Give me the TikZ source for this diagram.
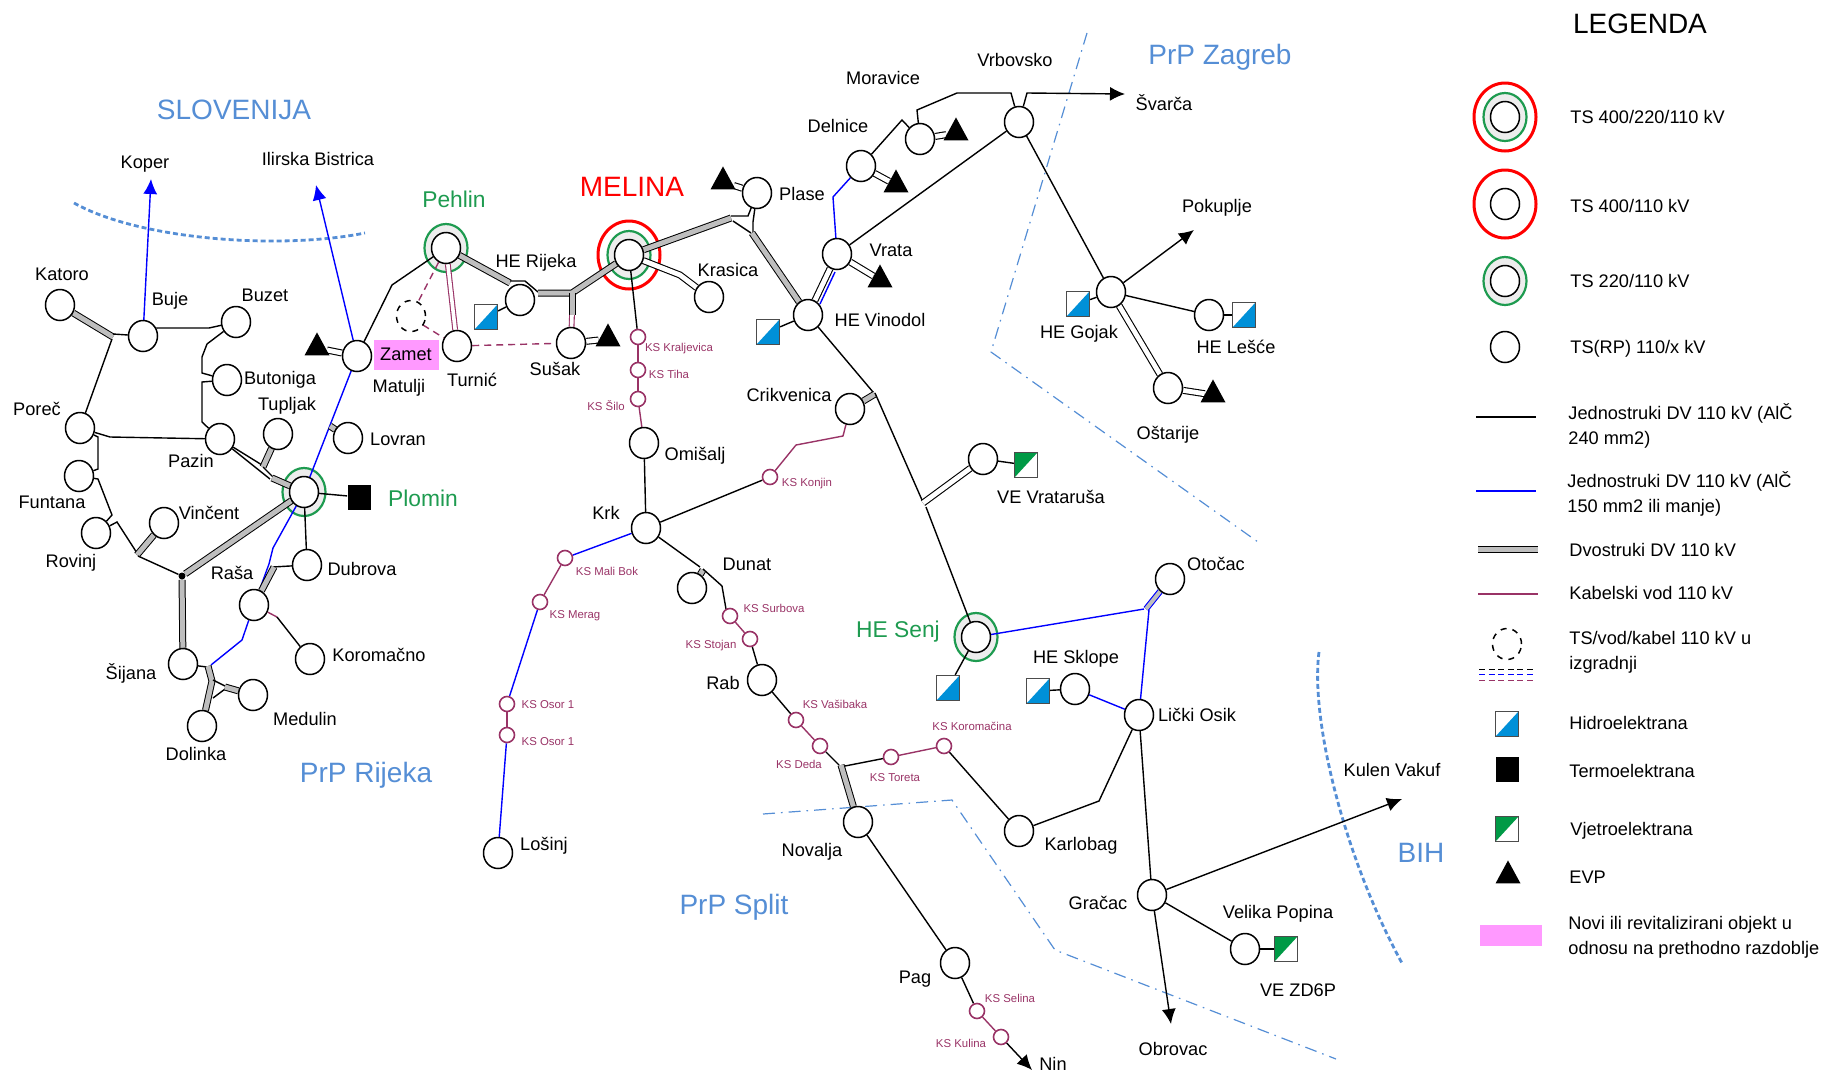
\documentclass[tikz,border=0pt]{standalone}
\usepackage{fontspec}
\setmainfont{Liberation Sans}
\usetikzlibrary{arrows.meta,backgrounds,shapes.geometric}
\definecolor{hopsBlue}{RGB}{85,142,213}
\definecolor{hopsGreen}{RGB}{30,155,80}
\definecolor{hopsCable}{RGB}{153,51,102}
\definecolor{hopsPink}{RGB}{255,153,255}
\definecolor{hopsHydro}{RGB}{0,144,216}
\definecolor{hopsWind}{RGB}{0,154,70}
\definecolor{hopsDouble}{RGB}{190,190,190}
\tikzset{
    tsnode/.style={ellipse, draw=black, line width=0.75pt, fill=white, inner sep=0pt,
                   minimum width=14.5pt, minimum height=15.5pt},
    ksnode/.style={circle, draw=hopsCable, line width=0.8pt, fill=white, inner sep=0pt, minimum size=7.5pt},
    futurenode/.style={tsnode, fill=none, dashed},
    ringgreen/.style={ellipse, draw=hopsGreen, line width=1.1pt, fill=black!7, inner sep=0pt,
                      minimum width=21.5pt, minimum height=24pt},
    ringred/.style={ellipse, draw=red, line width=1.5pt, fill=white, inner sep=0pt,
                    minimum width=31pt, minimum height=34pt},
    hydroplant/.style={rectangle, draw=black!70, line width=0.6pt, fill=white, inner sep=0pt,
                       minimum width=11.5pt, minimum height=12.5pt,
                       path picture={\fill[hopsHydro] (path picture bounding box.south west)
                       -- (path picture bounding box.north east)
                       -- (path picture bounding box.south east) -- cycle;}},
    windplant/.style={hydroplant, path picture={\fill[hopsWind] (path picture bounding box.south west)
                       -- (path picture bounding box.north east)
                       -- (path picture bounding box.north west) -- cycle;}},
    thermoplant/.style={rectangle, fill=black, inner sep=0pt, minimum width=11.5pt, minimum height=12.5pt},
    evpmark/.style={isosceles triangle, isosceles triangle stretches, shape border rotate=90,
                    fill=black, inner sep=0pt, minimum width=12.5pt, minimum height=11.5pt},
    txt/.style={font=\fontsize{9.1}{12.5}\selectfont, inner sep=0pt, align=left},
    kstxt/.style={font=\fontsize{5.7}{7}\selectfont, text=hopsCable, inner sep=0pt},
    greentxt/.style={font=\fontsize{11.4}{13}\selectfont, text=hopsGreen, inner sep=0pt},
    regiontxt/.style={font=\fontsize{14}{16}\selectfont, text=hopsBlue, inner sep=0pt},
    legendtxt/.style={txt, anchor=west},
    dvsingle/.style={draw=black, line width=0.7pt},
    dvblue/.style={draw=blue, line width=0.7pt},
    dvcable/.style={draw=hopsCable, line width=0.7pt},
    dvfuture/.style={draw=hopsCable, line width=0.7pt, dash pattern=on 3.5pt off 2.5pt},
    dvgray/.style={draw=black, line width=0.5pt, double=hopsDouble, double distance=2.5pt},
    dvwhite/.style={draw=black, line width=0.55pt, double=white, double distance=2.4pt},
    dvcablepair/.style={draw=hopsCable, line width=0.55pt, double=white, double distance=1.8pt},
    dvbluepair/.style={draw=blue, line width=0.55pt, double=hopsDouble, double distance=2pt},
    flowblack/.style={dvsingle, -{Latex[length=7.5pt,width=7pt]}},
    flowblue/.style={dvblue, -{Latex[length=7.5pt,width=7pt]}},
    borderdot/.style={draw=hopsBlue, line width=1.4pt, dash pattern=on 2.5pt off 1.5pt},
    borderdash/.style={draw=hopsBlue, line width=0.6pt, dash pattern=on 6pt off 3pt on 0.8pt off 3pt}
}

\begin{document}
\begin{tikzpicture}[x=0.5pt,y=-0.5pt]
  \useasboundingbox (0,0) rectangle (1827,1071);

  % Istra
  \node[tsnode] (katoro) at (60,305) {};
  \node[tsnode] (buje) at (143,336) {};
  \node[tsnode] (buzet) at (236,322) {};
  \node[tsnode] (butoniga) at (227,380) {};
  \node[tsnode] (porec) at (80,428) {};
  \node[tsnode] (funtana) at (79,476) {};
  \node[tsnode] (rovinj) at (96,533) {};
  \node[tsnode] (vincent) at (164,523) {};
  \node[tsnode] (pazin) at (220,439) {};
  \node[tsnode] (tupljak) at (278,434) {};
  \node[tsnode] (matulji) at (357,356) {};
  \node[tsnode] (lovran) at (348,438) {};
  \node[tsnode] (plomin) at (304,492) {};
  \node[tsnode] (dubrova) at (307,565) {};
  \node[tsnode] (rasa) at (254,605) {};
  \node[tsnode] (koromacno) at (310,659) {};
  \node[tsnode] (sijana) at (183,664) {};
  \node[tsnode] (medulin) at (253,695) {};
  \node[tsnode] (dolinka) at (202,726) {};
  \node[thermoplant] (plominTE) at (359,497) {};
  \node[evpmark] (matuljiEVP) at (317,348) {};
  \node[circle, fill=black, inner sep=0pt, minimum size=3.5pt] (sijanaJoint) at (182,576) {};

  % Rijeka i otoci
  \node[tsnode] (pehlin) at (446,248) {};
  \node[tsnode] (turnic) at (457,346) {};
  \node[futurenode] (zamet) at (411,316) {};
  \node[tsnode] (heRijeka) at (520,300) {};
  \node[tsnode] (melina) at (629,255) {};
  \node[tsnode] (krasica) at (709,297) {};
  \node[tsnode] (susak) at (571,343) {};
  \node[tsnode] (omisalj) at (644,443) {};
  \node[tsnode] (krk) at (646,528) {};
  \node[tsnode] (losinj) at (498,853) {};
  \node[tsnode] (dunat) at (692,588) {};
  \node[tsnode] (rab) at (762,680) {};
  \node[tsnode] (novalja) at (858,822) {};
  \node[tsnode] (pag) at (955,963) {};
  \node[hydroplant] (heRijekaHE) at (486,317) {};
  \node[evpmark] (susakEVP) at (608,339) {};
  \node[ksnode] (ksKraljevica) at (638,337) {};
  \node[ksnode] (ksTiha) at (638,370) {};
  \node[ksnode] (ksSilo) at (638,399) {};
  \node[ksnode] (ksKonjin) at (770,477) {};
  \node[ksnode] (ksMaliBok) at (565,558) {};
  \node[ksnode] (ksMerag) at (540,602) {};
  \node[ksnode] (ksOsorA) at (507,704) {};
  \node[ksnode] (ksOsorB) at (507,735) {};
  \node[ksnode] (ksSurbova) at (730,616) {};
  \node[ksnode] (ksStojan) at (750,639) {};
  \node[ksnode] (ksVasibaka) at (796,720) {};
  \node[ksnode] (ksDeda) at (820,746) {};
  \node[ksnode] (ksToreta) at (891,757) {};
  \node[ksnode] (ksKoromacina) at (944,746) {};
  \node[ksnode] (ksSelina) at (977,1011) {};
  \node[ksnode] (ksKulina) at (1001,1037) {};

  % Gorski kotar i Lika
  \node[tsnode] (plase) at (757,193) {};
  \node[tsnode] (vrata) at (837,254) {};
  \node[tsnode] (vinodol) at (808,315) {};
  \node[tsnode] (crikvenica) at (850,409) {};
  \node[tsnode] (delnice) at (861,166) {};
  \node[tsnode] (moravice) at (920,139) {};
  \node[tsnode] (vrbovsko) at (1019,122) {};
  \node[tsnode] (gojak) at (1111,292) {};
  \node[tsnode] (lesce) at (1209,315) {};
  \node[tsnode] (ostarije) at (1168,388) {};
  \node[tsnode] (vratarusa) at (983,459) {};
  \node[tsnode] (senj) at (976,637) {};
  \node[tsnode] (sklope) at (1075,689) {};
  \node[tsnode] (osik) at (1139,715) {};
  \node[tsnode] (otocac) at (1170,579) {};
  \node[tsnode] (karlobag) at (1019,831) {};
  \node[tsnode] (gracac) at (1152,895) {};
  \node[tsnode] (popina) at (1245,949) {};
  \node[evpmark] (plaseEVP) at (723,182) {};
  \node[evpmark] (vrataEVP) at (880,280) {};
  \node[evpmark] (delniceEVP) at (896,185) {};
  \node[evpmark] (moraviceEVP) at (956,133) {};
  \node[evpmark] (ostarijeEVP) at (1213,395) {};
  \node[hydroplant] (vinodolHE) at (768,332) {};
  \node[hydroplant] (gojakHE) at (1078,304) {};
  \node[hydroplant] (lesceHE) at (1244,315) {};
  \node[hydroplant] (senjHE) at (948,688) {};
  \node[hydroplant] (sklopeHE) at (1038,691) {};
  \node[windplant] (vratarusaVE) at (1026,465) {};
  \node[windplant] (popinaVE) at (1286,949) {};

  % Slobodni krajevi vodova
  \coordinate (koper) at (151,179);
  \coordinate (bistrica) at (316,185);
  \coordinate (svarca) at (1125,94);
  \coordinate (pokuplje) at (1194,230);
  \coordinate (kulen) at (1402,799);
  \coordinate (obrovac) at (1171,1024);
  \coordinate (nin) at (1032,1070);

  \begin{scope}[on background layer]
    % Granice
    \draw[borderdot] (74,203) .. controls (140,240) and (280,250) .. (365,233);
    \draw[borderdot] (1319,652) .. controls (1310,720) and (1345,860) .. (1403,965);
    \draw[borderdash] (1087,33) -- (991,352) -- (1258,542);
    \draw[borderdash] (763,814) -- (952,800) -- (1055,950) -- (1336,1059);

    % Prstenovi
    \node[ringred] (melinaRed) at (melina) {};
    \node[ringgreen] (melinaGreen) at (melina) {};
    \node[ringgreen] (pehlinGreen) at (pehlin) {};
    \node[ringgreen] (plominGreen) at (plomin) {};
    \node[ringgreen] (senjGreen) at (senj) {};
    \node[fill=hopsPink, minimum width=32.5pt, minimum height=15pt, inner sep=0pt] (zametBox) at (406.5,355) {};

    % Vodovi Istra
    \draw[dvgray] (katoro) -- (113,337);
    \draw[dvsingle] (113,334) -- (buje);
    \draw[dvsingle] (112,339) -- (porec);
    \draw[flowblue] (buje) -- (koper);
    \draw[dvsingle] (buje) -- (157,328) -- (209,328) -- (buzet);
    \draw[dvsingle] (buzet) -- (207,344) -- (202,357) -- (202,373) -- (butoniga);
    \draw[dvsingle] (butoniga) -- (202,382) -- (202,422) -- (pazin);
    \draw[dvsingle] (porec) -- (110,437) -- (pazin);
    \draw[dvsingle] (porec) -- (98,437) -- (98,469) -- (funtana);
    \draw[dvsingle] (funtana) -- (98,479) -- (112,515) -- (rovinj);
    \draw[dvsingle] (rovinj) -- (117,522) -- (137,553);
    \draw[dvgray] (vincent) -- (137,555);
    \draw[dvsingle] (138,556) -- (sijanaJoint);
    \draw[dvgray] (sijanaJoint) -- (plomin);
    \draw[dvgray] (sijanaJoint) -- (sijana);
    \draw[dvsingle] (pazin) -- (262,465);
    \draw[dvsingle] (pazin) -- (270,479);
    \draw[dvgray] (tupljak) -- (263,467);
    \draw[dvsingle] (263,467) -- (273,477);
    \draw[dvgray] (272,478) -- (plomin);
    \draw[dvsingle] (plomin) -- (plominTE);
    \draw[dvsingle] (plomin) -- (dubrova);
    \draw[dvblue] (plomin) -- (273,548) -- (269,564) -- (rasa);
    \draw[dvsingle] (dubrova) -- (273,567);
    \draw[dvgray] (274,567) -- (rasa);
    \draw[dvblue] (matulji) -- (plomin);
    \draw[flowblue] (matulji) -- (bistrica);
    \draw[dvwhite] (matulji) -- (matuljiEVP);
    \draw[dvgray] (330,426) -- (lovran);
    \draw[dvsingle] (matulji) -- (392,285) -- (pehlin);
    \draw[dvcable] (rasa) -- (277,617);
    \draw[dvsingle] (277,617) -- (koromacno);
    \draw[dvblue] (rasa) -- (242,640) -- (211,665);
    \draw[dvsingle] (sijana) -- (207,667);
    \draw[dvgray] (208,666) -- (212,681) -- (dolinka);
    \draw[dvsingle] (213,680) -- (225,686);
    \draw[dvsingle] (213,698) -- (225,689);
    \draw[dvgray] (225,687) -- (medulin);

    % Vodovi Rijeka
    \draw[dvgray] (pehlin) -- (510,283);
    \draw[dvsingle] (510,281) -- (525,281) -- (538,292);
    \draw[dvgray] (538,293) -- (572,293) -- (melina);
    \draw[dvgray] (572,293) -- (572,315);
    \draw[dvcablepair] (572,315) -- (susak);
    \draw[dvsingle] (heRijekaHE) -- (heRijeka);
    \draw[dvcablepair] (pehlin) -- (turnic);
    \draw[dvfuture] (pehlin) -- (418,302);
    \draw[dvfuture] (423,325) -- (turnic);
    \draw[dvfuture] (turnic) -- (susak);
    \draw[dvwhite] (susak) -- (susakEVP);
    \draw[dvwhite] (melina) -- (680,275) -- (krasica);
    \draw[dvsingle] (melina) -- (ksKraljevica);
    \draw[dvcable] (ksKraljevica) -- (ksTiha);
    \draw[dvcable] (ksTiha) -- (ksSilo);
    \draw[dvcable] (ksSilo) -- (omisalj);
    \draw[dvsingle] (omisalj) -- (krk);
    \draw[dvsingle] (krk) -- (ksKonjin);
    \draw[dvcable] (ksKonjin) -- (796,445) -- (843,436) -- (crikvenica);
    \draw[dvblue] (krk) -- (ksMaliBok);
    \draw[dvcable] (ksMaliBok) -- (ksMerag);
    \draw[dvblue] (ksMerag) -- (ksOsorA);
    \draw[dvcable] (ksOsorA) -- (ksOsorB);
    \draw[dvblue] (ksOsorB) -- (losinj);
    \draw[dvsingle] (krk) -- (700,567);
    \draw[dvgray] (703,570) -- (dunat);
    \draw[dvsingle] (703,569) -- (722,586) -- (726,609) -- (ksSurbova);
    \draw[dvcable] (ksSurbova) -- (ksStojan);
    \draw[dvsingle] (ksStojan) -- (rab);
    \draw[dvsingle] (rab) -- (ksVasibaka);
    \draw[dvcable] (ksVasibaka) -- (ksDeda);
    \draw[dvsingle] (ksDeda) -- (839,765);
    \draw[dvgray] (841,765) -- (novalja);
    \draw[dvsingle] (845,766) -- (ksToreta);
    \draw[dvcable] (ksToreta) -- (ksKoromacina);
    \draw[dvsingle] (ksKoromacina) -- (karlobag);
    \draw[dvsingle] (karlobag) -- (1099,801) -- (osik);
    \draw[dvsingle] (novalja) -- (pag);
    \draw[dvsingle] (pag) -- (ksSelina);
    \draw[dvcable] (ksSelina) -- (ksKulina);
    \draw[flowblack] (ksKulina) -- (nin);

    % Vodovi Gorski kotar
    \draw[dvgray] (melina) -- (731,218);
    \draw[dvsingle] (731,216) -- (748,216) -- (plase);
    \draw[dvsingle] (plase) -- (753,222) -- (753,233);
    \draw[dvsingle] (733,221) -- (751,233);
    \draw[dvgray] (752,233) -- (vinodol);
    \draw[dvwhite] (plase) -- (plaseEVP);
    \draw[dvwhite] (vrata) -- (vinodol);
    \draw[dvblue] (835,272) -- (820,304);
    \draw[dvblue] (vrata) -- (833,197) -- (delnice);
    \draw[dvwhite] (vrata) -- (vrataEVP);
    \draw[dvwhite] (delnice) -- (delniceEVP);
    \draw[dvwhite] (moravice) -- (moraviceEVP);
    \draw[dvsingle] (delnice) -- (902,120) -- (moravice);
    \draw[dvsingle] (moravice) -- (917,110) -- (957,93) -- (1011,93) -- (vrbovsko);
    \draw[flowblack] (vrbovsko) -- (1027,93) -- (svarca);
    \draw[dvsingle] (vrbovsko) -- (vrata);
    \draw[dvsingle] (vrbovsko) -- (gojak);
    \draw[dvsingle] (gojakHE) -- (gojak);
    \draw[flowblack] (gojak) -- (pokuplje);
    \draw[dvsingle] (gojak) -- (lesce);
    \draw[dvsingle] (lesce) -- (lesceHE);
    \draw[dvwhite] (gojak) -- (ostarije);
    \draw[dvwhite] (ostarije) -- (ostarijeEVP);
    \draw[dvsingle] (vinodolHE) -- (vinodol);
    \draw[dvsingle] (vinodol) -- (873,392);
    \draw[dvgray] (875,394) -- (crikvenica);
    \draw[dvsingle] (875,393) -- (922,500);
    \draw[dvwhite] (923,503) -- (vratarusa);
    \draw[dvsingle] (vratarusa) -- (vratarusaVE);
    \draw[dvsingle] (926,507) -- (senj);
    \draw[dvsingle] (senj) -- (senjHE);
    \draw[dvblue] (senj) -- (1144,609);
    \draw[dvbluepair] (1146,609) -- (otocac);
    \draw[dvblue] (1149,610) -- (osik);
    \draw[dvsingle] (sklopeHE) -- (sklope);
    \draw[dvblue] (sklope) -- (osik);
    \draw[dvsingle] (osik) -- (gracac);
    \draw[flowblack] (gracac) -- (kulen);
    \draw[flowblack] (gracac) -- (obrovac);
    \draw[dvsingle] (gracac) -- (popina);
    \draw[line width=1.2pt] (popina) -- (popinaVE);
  \end{scope}

  % Natpisi stanica
  \node[txt] (tKoper) at (145,164) {Koper};
  \node[txt] (tBistrica) at (318,159) {Ilirska Bistrica};
  \node[txt] (tKatoro) at (62,274) {Katoro};
  \node[txt] (tBuje) at (170,301) {Buje};
  \node[txt] (tBuzet) at (265,295) {Buzet};
  \node[txt] (tButoniga) at (280,380) {Butoniga};
  \node[txt] (tTupljak) at (287,406) {Tupljak};
  \node[txt] (tMatulji) at (399,388) {Matulji};
  \node[txt] (tTurnic) at (472,380) {Turnić};
  \node[txt] (tLovran) at (398,439) {Lovran};
  \node[txt] (tPorec) at (37,409) {Poreč};
  \node[txt] (tPazin) at (191,461) {Pazin};
  \node[txt] (tZamet) at (406,354) {Zamet};
  \node[txt] (tFuntana) at (52,502) {Funtana};
  \node[txt] (tVincent) at (209,513) {Vinčent};
  \node[txt] (tRovinj) at (71,563) {Rovinj};
  \node[txt] (tRasa) at (232,573) {Raša};
  \node[txt] (tDubrova) at (362,569) {Dubrova};
  \node[txt] (tKoromacno) at (379,655) {Koromačno};
  \node[txt] (tSijana) at (131,673) {Šijana};
  \node[txt] (tMedulin) at (305,719) {Medulin};
  \node[txt] (tDolinka) at (196,754) {Dolinka};
  \node[txt] (tRijeka) at (536,263) {HE Rijeka};
  \node[txt] (tPlase) at (802,194) {Plase};
  \node[txt] (tKrasica) at (728,270) {Krasica};
  \node[txt] (tSusak) at (555,369) {Sušak};
  \node[txt] (tOmisalj) at (695,456) {Omišalj};
  \node[txt] (tKrk) at (606,513) {Krk};
  \node[txt] (tCrikvenica) at (789,395) {Crikvenica};
  \node[txt] (tVinodol) at (880,320) {HE Vinodol};
  \node[txt] (tVrata) at (891,250) {Vrata};
  \node[txt] (tDelnice) at (838,126) {Delnice};
  \node[txt] (tMoravice) at (883,78) {Moravice};
  \node[txt] (tVrbovsko) at (1015,60) {Vrbovsko};
  \node[txt] (tSvarca) at (1164,103) {Švarča};
  \node[txt] (tPokuplje) at (1217,208) {Pokuplje};
  \node[txt] (tGojak) at (1079,334) {HE Gojak};
  \node[txt] (tLesce) at (1236,347) {HE Lešće};
  \node[txt] (tOstarije) at (1168,435) {Oštarije};
  \node[txt] (tLosinj) at (544,846) {Lošinj};
  \node[txt] (tDunat) at (747,564) {Dunat};
  \node[txt] (tRab) at (723,683) {Rab};
  \node[txt] (tNovalja) at (812,852) {Novalja};
  \node[txt] (tVratarusa) at (1051,497) {VE Vrataruša};
  \node[txt] (tOtocac) at (1216,564) {Otočac};
  \node[txt] (tSklope) at (1076,659) {HE Sklope};
  \node[txt] (tOsik) at (1197,715) {Lički Osik};
  \node[txt] (tKulen) at (1392,770) {Kulen Vakuf};
  \node[txt] (tKarlobag) at (1081,846) {Karlobag};
  \node[txt] (tGracac) at (1098,903) {Gračac};
  \node[txt] (tPopina) at (1278,914) {Velika Popina};
  \node[txt] (tZD6P) at (1298,990) {VE ZD6P};
  \node[txt] (tPag) at (915,979) {Pag};
  \node[txt] (tNin) at (1053,1064) {Nin};
  \node[txt] (tObrovac) at (1173,1049) {Obrovac};

  % Kabelske stanice
  \node[kstxt] (tKraljevica) at (679,349) {KS Kraljevica};
  \node[kstxt] (tTiha) at (669,374) {KS Tiha};
  \node[kstxt] (tSilo) at (606,406) {KS Šilo};
  \node[kstxt] (tKonjin) at (807,484) {KS Konjin};
  \node[kstxt] (tMaliBok) at (607,571) {KS Mali Bok};
  \node[kstxt] (tMerag) at (575,616) {KS Merag};
  \node[kstxt] (tOsorA) at (548,705) {KS Osor 1};
  \node[kstxt] (tOsorB) at (548,742) {KS Osor 1};
  \node[kstxt] (tSurbova) at (774,608) {KS Surbova};
  \node[kstxt] (tStojan) at (711,646) {KS Stojan};
  \node[kstxt] (tVasibaka) at (835,704) {KS Vašibaka};
  \node[kstxt] (tDeda) at (799,764) {KS Deda};
  \node[kstxt] (tToreta) at (895,778) {KS Toreta};
  \node[kstxt] (tKoromacina) at (972,726) {KS Koromačina};
  \node[kstxt] (tSelina) at (1010,998) {KS Selina};
  \node[kstxt] (tKulina) at (961,1043) {KS Kulina};

  % Podrucja
  \node[regiontxt] (tSlovenija) at (234,110) {SLOVENIJA};
  \node[regiontxt] (tPrpRijeka) at (366,775) {PrP Rijeka};
  \node[regiontxt] (tPrpZagreb) at (1220,57) {PrP Zagreb};
  \node[regiontxt] (tPrpSplit) at (734,907) {PrP Split};
  \node[regiontxt] (tBih) at (1421,853) {BIH};
  \node[regiontxt, text=red] (tMelina) at (632,187) {MELINA};
  \node[greentxt] (tPehlin) at (454,199) {Pehlin};
  \node[greentxt] (tPlomin) at (423,498) {Plomin};
  \node[greentxt] (tSenj) at (898,632) {HE Senj};

  % Legenda
  \node[font=\fontsize{14}{16}\selectfont, inner sep=0pt] (tLegenda) at (1640,24) {LEGENDA};
  \node[ringred] (legRedA) at (1505,117) {};
  \node[ringgreen] (legGreenA) at (1505,117) {};
  \node[tsnode] (legTsA) at (1505,117) {};
  \node[legendtxt] (legTxtA) at (1570,117) {TS 400/220/110 kV};
  \node[ringred] (legRedB) at (1505,204) {};
  \node[tsnode] (legTsB) at (1505,204) {};
  \node[legendtxt] (legTxtB) at (1570,206) {TS 400/110 kV};
  \node[ringgreen] (legGreenC) at (1505,281) {};
  \node[tsnode] (legTsC) at (1505,281) {};
  \node[legendtxt] (legTxtC) at (1570,281) {TS 220/110 kV};
  \node[tsnode] (legTsD) at (1505,347) {};
  \node[legendtxt] (legTxtD) at (1570,349) {TS(RP) 110/x kV};
  \draw[dvsingle] (1476,417) -- (1536,417);
  \node[legendtxt] (legTxtE) at (1568,426) {Jednostruki DV 110 kV (AlČ\\240 mm2)};
  \draw[dvblue] (1476,491) -- (1536,491);
  \node[legendtxt] (legTxtF) at (1567,494) {Jednostruki DV 110 kV (AlČ\\150 mm2 ili manje)};
  \draw[dvgray] (1478,549) -- (1538,549);
  \node[legendtxt] (legTxtG) at (1569,550) {Dvostruki DV 110 kV};
  \draw[dvcable] (1478,594) -- (1538,594);
  \node[legendtxt] (legTxtH) at (1569,593) {Kabelski vod 110 kV};
  \node[futurenode] (legFuture) at (1507,644) {};
  \draw[draw=black, line width=0.5pt, dash pattern=on 3pt off 1.8pt] (1479,669) -- (1536,669);
  \draw[draw=blue, line width=0.5pt, dash pattern=on 3pt off 1.8pt] (1479,674) -- (1536,674);
  \draw[draw=hopsCable, line width=0.5pt, dash pattern=on 3pt off 1.8pt] (1479,680) -- (1536,680);
  \node[legendtxt] (legTxtI) at (1569,652) {TS/vod/kabel 110 kV u\\izgradnji};
  \node[hydroplant] (legHE) at (1507,724) {};
  \node[legendtxt] (legTxtJ) at (1569,723) {Hidroelektrana};
  \node[thermoplant] (legTE) at (1507,769) {};
  \node[legendtxt] (legTxtK) at (1569,771) {Termoelektrana};
  \node[windplant] (legVE) at (1507,829) {};
  \node[legendtxt] (legTxtL) at (1570,831) {Vjetroelektrana};
  \node[evpmark] (legEVP) at (1508,876) {};
  \node[legendtxt] (legTxtM) at (1569,877) {EVP};
  \node[fill=hopsPink, minimum width=31pt, minimum height=10.5pt, inner sep=0pt] (legPink) at (1511,935) {};
  \node[legendtxt] (legTxtN) at (1568,937) {Novi ili revitalizirani objekt u\\odnosu na prethodno razdoblje};
\end{tikzpicture}
\end{document}
